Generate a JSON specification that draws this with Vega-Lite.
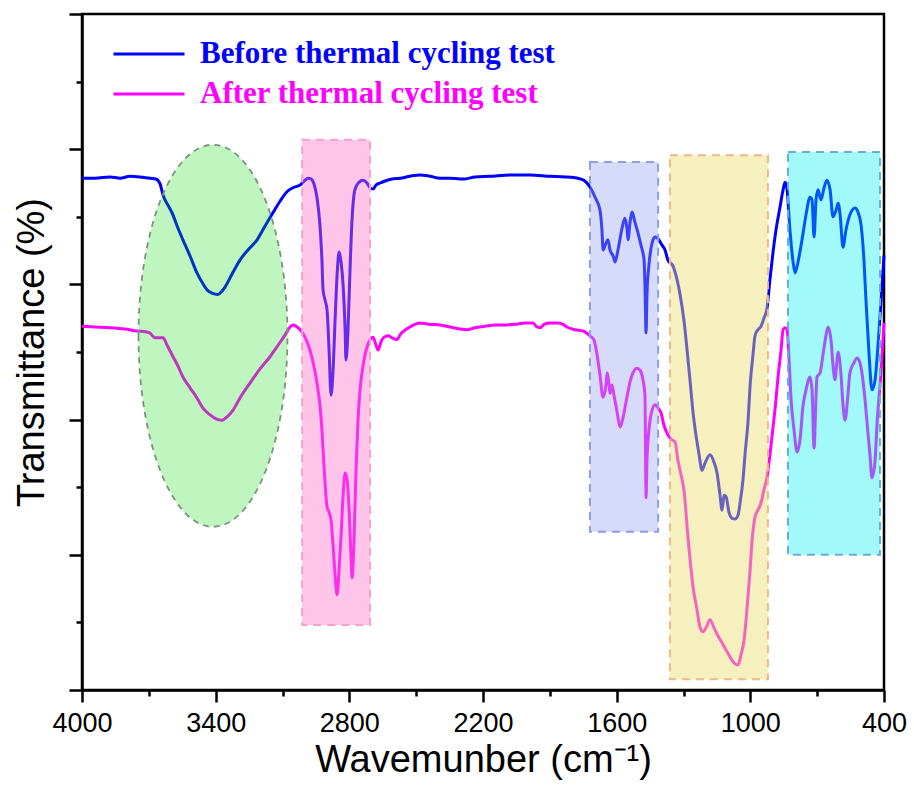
{
  "$schema": "https://vega.github.io/schema/vega-lite/v6.json",
  "width": 802,
  "height": 676,
  "autosize": {"type": "none"},
  "padding": {"left": 82, "top": 14, "right": 30, "bottom": 103},
  "background": "white",
  "config": {"view": {"stroke": "black", "strokeWidth": 2.5}, "font": "Liberation Sans"},
  "datasets": {
    "before": [
      {"wn":4000,"T":75.7},{"wn":3942,"T":75.7},{"wn":3874,"T":75.9},{"wn":3829,"T":75.7},{"wn":3785,"T":76.0},{"wn":3740,"T":75.9},{"wn":3695,"T":75.7},{"wn":3668,"T":75.6},{"wn":3650,"T":74.9},{"wn":3636,"T":73.2},{"wn":3614,"T":71.7},{"wn":3596,"T":70.6},{"wn":3569,"T":68.3},{"wn":3547,"T":66.6},{"wn":3515,"T":64.2},{"wn":3484,"T":61.7},{"wn":3457,"T":60.1},{"wn":3439,"T":59.2},{"wn":3416,"T":58.7},{"wn":3390,"T":58.5},{"wn":3372,"T":59.0},{"wn":3358,"T":59.6},{"wn":3327,"T":61.5},{"wn":3291,"T":63.6},{"wn":3255,"T":65.1},{"wn":3214,"T":66.6},{"wn":3179,"T":68.6},{"wn":3143,"T":70.6},{"wn":3111,"T":72.3},{"wn":3080,"T":73.7},{"wn":3053,"T":74.3},{"wn":3021,"T":74.7},{"wn":2999,"T":75.4},{"wn":2986,"T":75.7},{"wn":2972,"T":75.6},{"wn":2959,"T":74.9},{"wn":2945,"T":72.8},{"wn":2932,"T":68.8},{"wn":2923,"T":63.6},{"wn":2918,"T":59.2},{"wn":2909,"T":57.7},{"wn":2900,"T":56.2},{"wn":2891,"T":50.3},{"wn":2882,"T":43.6},{"wn":2873,"T":47.3},{"wn":2864,"T":54.7},{"wn":2855,"T":61.4},{"wn":2846,"T":64.8},{"wn":2837,"T":63.3},{"wn":2828,"T":59.9},{"wn":2819,"T":53.3},{"wn":2815,"T":48.8},{"wn":2806,"T":53.3},{"wn":2797,"T":62.1},{"wn":2788,"T":69.5},{"wn":2775,"T":74.0},{"wn":2757,"T":75.1},{"wn":2739,"T":75.4},{"wn":2721,"T":75.0},{"wn":2707,"T":74.3},{"wn":2694,"T":74.1},{"wn":2680,"T":74.7},{"wn":2662,"T":75.0},{"wn":2640,"T":75.3},{"wn":2608,"T":75.6},{"wn":2573,"T":75.7},{"wn":2528,"T":76.0},{"wn":2483,"T":76.2},{"wn":2438,"T":76.0},{"wn":2393,"T":75.7},{"wn":2348,"T":75.7},{"wn":2303,"T":75.6},{"wn":2281,"T":75.6},{"wn":2236,"T":75.9},{"wn":2169,"T":76.0},{"wn":2079,"T":76.2},{"wn":1989,"T":76.2},{"wn":1899,"T":76.0},{"wn":1832,"T":75.9},{"wn":1774,"T":75.7},{"wn":1747,"T":75.4},{"wn":1720,"T":74.4},{"wn":1697,"T":72.9},{"wn":1675,"T":71.0},{"wn":1666,"T":68.0},{"wn":1661,"T":65.1},{"wn":1648,"T":66.1},{"wn":1639,"T":66.6},{"wn":1630,"T":65.1},{"wn":1616,"T":64.2},{"wn":1607,"T":63.3},{"wn":1594,"T":65.1},{"wn":1576,"T":68.3},{"wn":1563,"T":69.8},{"wn":1554,"T":68.3},{"wn":1549,"T":66.6},{"wn":1540,"T":69.2},{"wn":1531,"T":70.7},{"wn":1518,"T":69.2},{"wn":1504,"T":67.6},{"wn":1491,"T":65.8},{"wn":1477,"T":63.6},{"wn":1473,"T":59.9},{"wn":1468,"T":52.8},{"wn":1464,"T":58.4},{"wn":1455,"T":62.9},{"wn":1441,"T":66.1},{"wn":1428,"T":67.0},{"wn":1419,"T":66.9},{"wn":1405,"T":66.3},{"wn":1396,"T":65.8},{"wn":1383,"T":65.1},{"wn":1370,"T":63.6},{"wn":1347,"T":62.7},{"wn":1329,"T":60.7},{"wn":1316,"T":58.6},{"wn":1298,"T":54.7},{"wn":1284,"T":50.3},{"wn":1271,"T":45.9},{"wn":1257,"T":41.0},{"wn":1244,"T":37.7},{"wn":1230,"T":34.8},{"wn":1217,"T":32.5},{"wn":1203,"T":33.6},{"wn":1181,"T":34.8},{"wn":1163,"T":33.7},{"wn":1150,"T":32.2},{"wn":1136,"T":28.8},{"wn":1127,"T":26.6},{"wn":1118,"T":28.8},{"wn":1109,"T":28.6},{"wn":1096,"T":26.3},{"wn":1082,"T":25.4},{"wn":1069,"T":25.3},{"wn":1055,"T":25.9},{"wn":1046,"T":27.7},{"wn":1033,"T":31.1},{"wn":1024,"T":34.8},{"wn":1010,"T":39.9},{"wn":1001,"T":45.1},{"wn":988,"T":49.6},{"wn":979,"T":52.4},{"wn":966,"T":53.3},{"wn":952,"T":53.8},{"wn":939,"T":55.0},{"wn":925,"T":56.5},{"wn":912,"T":60.7},{"wn":898,"T":64.8},{"wn":885,"T":68.0},{"wn":867,"T":71.4},{"wn":853,"T":74.0},{"wn":844,"T":75.1},{"wn":835,"T":74.0},{"wn":822,"T":68.0},{"wn":808,"T":63.3},{"wn":799,"T":61.7},{"wn":786,"T":63.3},{"wn":768,"T":66.6},{"wn":750,"T":70.3},{"wn":732,"T":72.9},{"wn":723,"T":72.5},{"wn":714,"T":67.0},{"wn":705,"T":72.5},{"wn":696,"T":74.0},{"wn":683,"T":72.5},{"wn":669,"T":74.3},{"wn":656,"T":75.4},{"wn":642,"T":74.0},{"wn":629,"T":70.0},{"wn":615,"T":71.0},{"wn":606,"T":72.0},{"wn":597,"T":70.3},{"wn":584,"T":65.5},{"wn":571,"T":68.0},{"wn":553,"T":70.3},{"wn":530,"T":71.3},{"wn":517,"T":70.7},{"wn":503,"T":68.8},{"wn":490,"T":63.6},{"wn":481,"T":57.7},{"wn":467,"T":49.6},{"wn":454,"T":44.4},{"wn":440,"T":45.9},{"wn":427,"T":51.0},{"wn":413,"T":57.7},{"wn":400,"T":64.3}
    ],
    "after": [
      {"wn":4000,"T":53.8},{"wn":3942,"T":53.7},{"wn":3874,"T":53.6},{"wn":3807,"T":53.4},{"wn":3753,"T":53.1},{"wn":3717,"T":53.0},{"wn":3695,"T":52.8},{"wn":3672,"T":52.1},{"wn":3650,"T":52.1},{"wn":3636,"T":52.1},{"wn":3618,"T":51.0},{"wn":3596,"T":49.6},{"wn":3569,"T":47.9},{"wn":3547,"T":46.3},{"wn":3515,"T":44.7},{"wn":3484,"T":43.2},{"wn":3457,"T":41.7},{"wn":3425,"T":40.7},{"wn":3398,"T":40.1},{"wn":3372,"T":39.9},{"wn":3349,"T":40.4},{"wn":3322,"T":41.4},{"wn":3291,"T":43.2},{"wn":3246,"T":45.4},{"wn":3201,"T":47.5},{"wn":3156,"T":49.3},{"wn":3120,"T":51.0},{"wn":3089,"T":52.5},{"wn":3066,"T":53.7},{"wn":3053,"T":54.0},{"wn":3039,"T":53.8},{"wn":3021,"T":53.3},{"wn":2999,"T":52.2},{"wn":2977,"T":50.3},{"wn":2959,"T":47.9},{"wn":2945,"T":45.4},{"wn":2932,"T":42.2},{"wn":2923,"T":38.5},{"wn":2914,"T":33.3},{"wn":2900,"T":27.1},{"wn":2891,"T":26.3},{"wn":2882,"T":25.1},{"wn":2873,"T":21.4},{"wn":2864,"T":17.0},{"wn":2855,"T":14.1},{"wn":2846,"T":17.8},{"wn":2837,"T":22.9},{"wn":2828,"T":28.8},{"wn":2819,"T":32.1},{"wn":2810,"T":31.1},{"wn":2801,"T":26.6},{"wn":2792,"T":19.2},{"wn":2788,"T":16.6},{"wn":2779,"T":22.2},{"wn":2770,"T":32.5},{"wn":2761,"T":39.9},{"wn":2752,"T":44.4},{"wn":2734,"T":48.8},{"wn":2721,"T":50.7},{"wn":2707,"T":51.8},{"wn":2694,"T":52.2},{"wn":2680,"T":51.0},{"wn":2671,"T":50.3},{"wn":2658,"T":51.5},{"wn":2644,"T":52.2},{"wn":2626,"T":52.4},{"wn":2608,"T":52.1},{"wn":2586,"T":51.8},{"wn":2573,"T":52.5},{"wn":2559,"T":53.0},{"wn":2528,"T":53.7},{"wn":2483,"T":54.3},{"wn":2438,"T":54.1},{"wn":2393,"T":54.0},{"wn":2348,"T":53.7},{"wn":2303,"T":53.4},{"wn":2272,"T":53.3},{"wn":2236,"T":53.6},{"wn":2191,"T":53.8},{"wn":2146,"T":54.0},{"wn":2101,"T":54.0},{"wn":2056,"T":54.1},{"wn":2011,"T":54.3},{"wn":1976,"T":54.3},{"wn":1958,"T":53.7},{"wn":1944,"T":53.6},{"wn":1926,"T":54.1},{"wn":1899,"T":54.3},{"wn":1863,"T":54.3},{"wn":1841,"T":54.1},{"wn":1823,"T":53.7},{"wn":1787,"T":53.3},{"wn":1751,"T":53.1},{"wn":1720,"T":52.4},{"wn":1702,"T":51.8},{"wn":1688,"T":49.6},{"wn":1675,"T":46.6},{"wn":1661,"T":43.3},{"wn":1648,"T":45.1},{"wn":1643,"T":46.9},{"wn":1634,"T":45.1},{"wn":1630,"T":43.9},{"wn":1621,"T":45.1},{"wn":1612,"T":43.6},{"wn":1598,"T":41.1},{"wn":1585,"T":38.9},{"wn":1572,"T":40.2},{"wn":1554,"T":43.3},{"wn":1540,"T":45.6},{"wn":1527,"T":46.9},{"wn":1509,"T":47.6},{"wn":1495,"T":47.3},{"wn":1482,"T":45.9},{"wn":1473,"T":43.6},{"wn":1468,"T":28.4},{"wn":1464,"T":34.0},{"wn":1459,"T":37.0},{"wn":1446,"T":40.7},{"wn":1428,"T":42.2},{"wn":1414,"T":41.7},{"wn":1401,"T":41.0},{"wn":1388,"T":39.2},{"wn":1374,"T":38.0},{"wn":1361,"T":37.3},{"wn":1352,"T":37.0},{"wn":1338,"T":36.7},{"wn":1325,"T":34.0},{"wn":1311,"T":31.8},{"wn":1298,"T":29.6},{"wn":1280,"T":22.6},{"wn":1257,"T":15.2},{"wn":1239,"T":11.8},{"wn":1226,"T":9.3},{"wn":1212,"T":8.6},{"wn":1199,"T":9.2},{"wn":1181,"T":10.4},{"wn":1163,"T":9.2},{"wn":1145,"T":8.0},{"wn":1127,"T":7.0},{"wn":1109,"T":5.9},{"wn":1091,"T":4.9},{"wn":1073,"T":4.0},{"wn":1055,"T":3.7},{"wn":1042,"T":5.2},{"wn":1028,"T":7.4},{"wn":1019,"T":10.4},{"wn":1010,"T":14.1},{"wn":1001,"T":17.8},{"wn":992,"T":22.2},{"wn":979,"T":25.6},{"wn":966,"T":26.6},{"wn":952,"T":27.7},{"wn":939,"T":29.6},{"wn":925,"T":31.5},{"wn":912,"T":34.8},{"wn":898,"T":38.9},{"wn":885,"T":42.9},{"wn":876,"T":46.2},{"wn":862,"T":50.3},{"wn":853,"T":53.3},{"wn":844,"T":53.6},{"wn":835,"T":53.3},{"wn":826,"T":48.8},{"wn":817,"T":42.9},{"wn":804,"T":38.5},{"wn":790,"T":35.2},{"wn":777,"T":37.0},{"wn":764,"T":41.9},{"wn":750,"T":44.4},{"wn":732,"T":46.3},{"wn":723,"T":44.4},{"wn":714,"T":35.8},{"wn":705,"T":43.6},{"wn":701,"T":46.3},{"wn":687,"T":46.9},{"wn":674,"T":49.6},{"wn":660,"T":52.5},{"wn":651,"T":53.7},{"wn":638,"T":51.8},{"wn":629,"T":48.1},{"wn":620,"T":45.9},{"wn":611,"T":48.8},{"wn":606,"T":50.0},{"wn":593,"T":46.6},{"wn":584,"T":42.2},{"wn":575,"T":39.9},{"wn":562,"T":43.6},{"wn":553,"T":46.9},{"wn":535,"T":48.4},{"wn":521,"T":49.1},{"wn":508,"T":48.4},{"wn":499,"T":46.9},{"wn":485,"T":42.9},{"wn":476,"T":39.5},{"wn":463,"T":34.8},{"wn":454,"T":31.4},{"wn":440,"T":34.0},{"wn":431,"T":39.5},{"wn":418,"T":45.1},{"wn":409,"T":49.3},{"wn":400,"T":54.3}
    ],
    "boxes": [
      {"box": "CH", "x1": 3012, "x2": 2707, "y1": 81.4, "y2": 9.6},
      {"box": "ring", "x1": 1720, "x2": 1414, "y1": 78.1, "y2": 23.4},
      {"box": "CO", "x1": 1361, "x2": 921, "y1": 79.1, "y2": 1.6},
      {"box": "fp", "x1": 831, "x2": 418, "y1": 79.6, "y2": 20.0}
    ],
    "ellipse": [{"wn": 3412, "T": 52.4}]
  },
  "layer": [
    {
      "data": {"name": "before"},
      "mark": {"type": "line", "strokeWidth": 3, "interpolate": "monotone"},
      "encoding": {
        "x": {"field": "wn", "type": "quantitative"},
        "y": {"field": "T", "type": "quantitative"},
        "color": {"datum": "Before thermal cycling test", "type": "nominal"}
      }
    },
    {
      "data": {"name": "after"},
      "mark": {"type": "line", "strokeWidth": 3, "interpolate": "monotone"},
      "encoding": {
        "x": {
          "field": "wn", "type": "quantitative",
          "scale": {"domain": [4000, 400], "nice": false, "zero": false},
          "axis": {
            "title": "Wavemunber (cm⁻¹)",
            "values": [4000, 3700, 3400, 3100, 2800, 2500, 2200, 1900, 1600, 1300, 1000, 700, 400],
            "format": "d",
            "labelExpr": "datum.value % 600 == 400 ? datum.label : ''",
            "tickSize": {"condition": {"test": "datum.value % 600 == 400", "value": 12}, "value": 6},
            "grid": false, "domainColor": "black", "domainWidth": 2.5, "tickColor": "black", "tickWidth": 2.5,
            "labelFontSize": 27, "labelColor": "black", "labelPadding": 8, "labelFlush": false, "labelOverlap": false,
            "titleFontSize": 38, "titleFontWeight": "normal", "titleColor": "black", "titlePadding": 5
          }
        },
        "y": {
          "field": "T", "type": "quantitative",
          "scale": {"domain": [0, 100], "nice": false, "zero": false},
          "axis": {
            "title": "Transmittance (%)",
            "values": [0, 10, 20, 30, 40, 50, 60, 70, 80, 90, 100],
            "labels": false,
            "tickSize": {"condition": {"test": "datum.value % 20 == 0", "value": 13}, "value": 6},
            "grid": false, "domainColor": "black", "domainWidth": 2.5, "tickColor": "black", "tickWidth": 2.5,
            "titleFontSize": 38, "titleFontWeight": "normal", "titleColor": "black", "titlePadding": 16
          }
        },
        "color": {
          "datum": "After thermal cycling test", "type": "nominal",
          "scale": {"domain": ["Before thermal cycling test", "After thermal cycling test"], "range": ["#0000ff", "#ff00ff"]},
          "legend": {
            "title": null, "orient": "none", "legendX": 30, "legendY": 25, "direction": "vertical",
            "symbolType": "stroke", "symbolSize": 5041, "symbolStrokeWidth": 3, "clipHeight": 30,
            "rowPadding": 9, "labelOffset": 14, "labelFont": "Liberation Serif", "labelFontSize": 31,
            "labelFontWeight": "bold", "labelLimit": 700, "padding": 0,
            "encode": {"labels": {"update": {"fill": {"signal": "datum.label == 'Before thermal cycling test' ? '#0000ff' : '#ff00ff'"}}}}
          }
        }
      }
    },
    {
      "data": {"name": "boxes"},
      "transform": [{"filter": "datum.box == 'CH'"}],
      "mark": {"type": "rect", "fill": "#ff6ec8", "fillOpacity": 0.4, "stroke": "#f2a2cc", "strokeWidth": 2, "strokeDash": [8, 6]},
      "encoding": {"x": {"field": "x1", "type": "quantitative"}, "x2": {"field": "x2"}, "y": {"field": "y1", "type": "quantitative"}, "y2": {"field": "y2"}}
    },
    {
      "data": {"name": "boxes"},
      "transform": [{"filter": "datum.box == 'ring'"}],
      "mark": {"type": "rect", "fill": "#96a5f0", "fillOpacity": 0.4, "stroke": "#8c9ee8", "strokeWidth": 2, "strokeDash": [8, 6]},
      "encoding": {"x": {"field": "x1", "type": "quantitative"}, "x2": {"field": "x2"}, "y": {"field": "y1", "type": "quantitative"}, "y2": {"field": "y2"}}
    },
    {
      "data": {"name": "boxes"},
      "transform": [{"filter": "datum.box == 'CO'"}],
      "mark": {"type": "rect", "fill": "#ebdc6e", "fillOpacity": 0.45, "stroke": "#f0b884", "strokeWidth": 2, "strokeDash": [8, 6]},
      "encoding": {"x": {"field": "x1", "type": "quantitative"}, "x2": {"field": "x2"}, "y": {"field": "y1", "type": "quantitative"}, "y2": {"field": "y2"}}
    },
    {
      "data": {"name": "boxes"},
      "transform": [{"filter": "datum.box == 'fp'"}],
      "mark": {"type": "rect", "fill": "#00f0f0", "fillOpacity": 0.37, "stroke": "#64b0d8", "strokeWidth": 2, "strokeDash": [8, 6]},
      "encoding": {"x": {"field": "x1", "type": "quantitative"}, "x2": {"field": "x2"}, "y": {"field": "y1", "type": "quantitative"}, "y2": {"field": "y2"}}
    },
    {
      "data": {"name": "ellipse"},
      "mark": {"type": "point", "shape": "M-0.39,0A0.39,1,0,1,1,0.39,0A0.39,1,0,1,1,-0.39,0Z", "size": 145924, "filled": true, "fill": "#00d700", "fillOpacity": 0.25, "stroke": "#7d937d", "strokeWidth": 1.8, "strokeDash": [6, 5], "opacity": 1},
      "encoding": {"x": {"field": "wn", "type": "quantitative"}, "y": {"field": "T", "type": "quantitative"}}
    }
  ]
}
